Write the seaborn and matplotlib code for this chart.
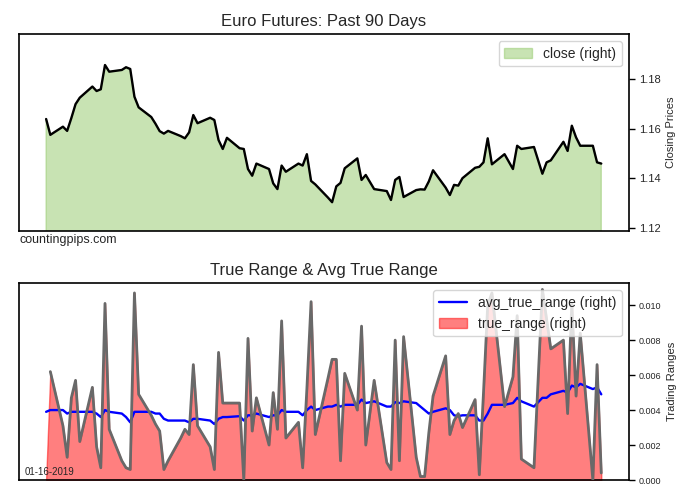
import numpy as np
import pandas as pd
import matplotlib
matplotlib.use("Agg")
import matplotlib.pyplot as plt
import seaborn as sns
from matplotlib.patches import Patch
from matplotlib.lines import Line2D
from matplotlib.ticker import FormatStrFormatter

# ---------------- data ----------------
dates = [
    "2018-09-06", "2018-09-07", "2018-09-10", "2018-09-11", "2018-09-12", "2018-09-13", "2018-09-14",
    "2018-09-17", "2018-09-18", "2018-09-19", "2018-09-20", "2018-09-21", "2018-09-24", "2018-09-25",
    "2018-09-26", "2018-09-27", "2018-09-28",
    "2018-10-01", "2018-10-02", "2018-10-03", "2018-10-04", "2018-10-05", "2018-10-08", "2018-10-09",
    "2018-10-10", "2018-10-11", "2018-10-12", "2018-10-15", "2018-10-16", "2018-10-17", "2018-10-18",
    "2018-10-19", "2018-10-22", "2018-10-23", "2018-10-24", "2018-10-25", "2018-10-26", "2018-10-29",
    "2018-10-30", "2018-10-31",
    "2018-11-01", "2018-11-02", "2018-11-05", "2018-11-06", "2018-11-07", "2018-11-08", "2018-11-09",
    "2018-11-12", "2018-11-13", "2018-11-14", "2018-11-15", "2018-11-16", "2018-11-19", "2018-11-20",
    "2018-11-21", "2018-11-23", "2018-11-26", "2018-11-27", "2018-11-28", "2018-11-29", "2018-11-30",
    "2018-12-03", "2018-12-04", "2018-12-05", "2018-12-06", "2018-12-07", "2018-12-10", "2018-12-11",
    "2018-12-12", "2018-12-13", "2018-12-14", "2018-12-17", "2018-12-18", "2018-12-19", "2018-12-20",
    "2018-12-21", "2018-12-24", "2018-12-26", "2018-12-27", "2018-12-28", "2018-12-31",
    "2019-01-02", "2019-01-03", "2019-01-04", "2019-01-07", "2019-01-08", "2019-01-09", "2019-01-10",
    "2019-01-11", "2019-01-14", "2019-01-15", "2019-01-16",
]

close = [
    1.1639, 1.1575, 1.1608, 1.1591, 1.1643, 1.1699, 1.1725, 1.1770, 1.1752, 1.1759, 1.1857, 1.1830,
    1.1837, 1.1848, 1.1841, 1.1729, 1.1686,
    1.1647, 1.1620, 1.1590, 1.1580, 1.1591, 1.1570, 1.1561, 1.1585, 1.1655, 1.1622, 1.1644, 1.1635,
    1.1554, 1.1518, 1.1563, 1.1521, 1.1518, 1.1437, 1.1410, 1.1459, 1.1437, 1.1379, 1.1356,
    1.1451, 1.1426, 1.1459, 1.1451, 1.1497, 1.1389, 1.1375, 1.1322, 1.1303, 1.1367, 1.1381, 1.1440,
    1.1480, 1.1393, 1.1413, 1.1356, 1.1348, 1.1312, 1.1393, 1.1405, 1.1324,
    1.1352, 1.1355, 1.1354, 1.1387, 1.1432, 1.1362, 1.1332, 1.1373, 1.1370, 1.1400, 1.1442, 1.1446,
    1.1464, 1.1561, 1.1456, 1.1497, 1.1437, 1.1531, 1.1518, 1.1526,
    1.1418, 1.1464, 1.1472, 1.1547, 1.1510, 1.1612, 1.1565, 1.1531, 1.1531, 1.1464, 1.1459,
]

true_range = [
    np.nan, 0.0062, 0.0031, 0.0013, 0.0047, 0.0057, 0.0022, 0.0053, 0.0019, 0.0007, 0.0101, 0.0029,
    0.0011, 0.0007, 0.0006, 0.0107, 0.0049,
    0.0037, 0.0032, 0.0028, 0.0006, 0.0011, 0.0024, 0.0029, 0.0026, 0.0066, 0.0031, 0.0019, 0.0006,
    0.0073, 0.0044, 0.0044, 0.0044, 0.0000, 0.0081, 0.0028, 0.0047, 0.0020, 0.0050, 0.0029,
    0.0091, 0.0024, 0.0033, 0.0007, 0.0052, 0.0102, 0.0026, 0.0058, 0.0069, 0.0069, 0.0011, 0.0061,
    0.0040, 0.0088, 0.0020, 0.0057, 0.0010, 0.0006, 0.0080, 0.0011, 0.0082,
    0.0013, 0.0002, 0.0002, 0.0027, 0.0048, 0.0071, 0.0026, 0.0034, 0.0038, 0.0030, 0.0046, 0.0003,
    0.0050, 0.0100, 0.0107, 0.0042, 0.0059, 0.0094, 0.0012, 0.0007,
    0.0109, 0.0092, 0.0075, 0.0080, 0.0038, 0.0101, 0.0048, 0.0084, 0.0000, 0.0066, 0.0004,
]

avg_true_range = [
    0.0039, 0.0040, 0.0040, 0.0038, 0.0039, 0.0039, 0.0039, 0.0039, 0.0038, 0.0036, 0.0040, 0.0039,
    0.0038, 0.0036, 0.0033, 0.0039, 0.0039,
    0.0039, 0.0038, 0.0038, 0.0035, 0.0034, 0.0034, 0.0034, 0.0033, 0.0035, 0.0035, 0.0034, 0.0032,
    0.0035, 0.0036, 0.0036, 0.00365, 0.0034, 0.0037, 0.0037, 0.0038, 0.0036, 0.0037, 0.0037,
    0.0040, 0.0039, 0.0039, 0.0037, 0.0040, 0.0042, 0.0040, 0.0042, 0.0042, 0.0043, 0.0042, 0.0043,
    0.0043, 0.0046, 0.0044, 0.0045, 0.0042, 0.0042, 0.00445, 0.0044, 0.0045,
    0.0044, 0.0042, 0.0040, 0.0038, 0.0039, 0.0041, 0.0040, 0.0037, 0.00365, 0.0037, 0.0037, 0.0034,
    0.0034, 0.0038, 0.0043, 0.0043, 0.0044, 0.0047, 0.0045, 0.0042,
    0.0047, 0.0047, 0.0049, 0.0051, 0.0050, 0.0054, 0.0053, 0.0055, 0.0052, 0.0053, 0.0049,
]

price_ticks = [1.12, 1.14, 1.16, 1.18]
range_ticks = [0.000, 0.002, 0.004, 0.006, 0.008, 0.010]

# ---------------- style ----------------
sns.set_style("white")
plt.rcParams["font.family"] = ["Liberation Sans", "DejaVu Sans"]

df = pd.DataFrame({
    "date": pd.to_datetime(dates),
    "close": close,
    "true_range": true_range,
    "avg_true_range": avg_true_range,
})

GREEN = "#93c969"
W, H = 700, 500
fig = plt.figure(figsize=(7, 5), dpi=100)
left, right = 19.2, 628.6
ax1 = fig.add_axes([left / W, 1 - 230.7 / H, (right - left) / W, (230.7 - 34.3) / H])
ax2 = fig.add_axes([left / W, 1 - 480.0 / H, (right - left) / W, (480.0 - 283.3) / H])

xmin = df["date"].iloc[0] - pd.Timedelta(days=6.4)
xmax = df["date"].iloc[-1] + pd.Timedelta(days=6.5)

# ---- top panel ----
ax1.fill_between(df["date"], 0, df["close"], facecolor=GREEN, edgecolor=GREEN,
                 alpha=0.5, lw=1, zorder=1)
sns.lineplot(data=df, x="date", y="close", ax=ax1, color="black", lw=1.7,
             estimator=None, zorder=3)
ax1.set_xlim(xmin, xmax)
ax1.set_ylim(1.1188, 1.1981)
ax1.set_yticks(price_ticks)
ax1.set_title("Euro Futures: Past 90 Days", fontsize=12)
ax1.legend(handles=[Patch(facecolor=GREEN, edgecolor=GREEN, alpha=0.5, label="close (right)")],
           loc="upper right", fontsize=10, frameon=True, fancybox=True,
           edgecolor="0.8", framealpha=0.8)

# ---- bottom panel ----
ax2.fill_between(df["date"], 0, df["true_range"].fillna(0), facecolor="red", edgecolor="red",
                 alpha=0.5, lw=1, zorder=1)
sns.lineplot(data=df, x="date", y="avg_true_range", ax=ax2, color="blue", lw=1.7,
             estimator=None, zorder=3)
sns.lineplot(data=df, x="date", y="true_range", ax=ax2, color="dimgray", lw=2.0,
             estimator=None, zorder=4)
ax2.set_xlim(xmin, xmax)
ax2.set_ylim(0, 0.01125)
ax2.set_yticks(range_ticks)
ax2.yaxis.set_major_formatter(FormatStrFormatter("%.3f"))
ax2.set_title("True Range & Avg True Range", fontsize=12)
ax2.legend(handles=[Line2D([0], [0], color="blue", lw=1.7, label="avg_true_range (right)"),
                    Patch(facecolor="red", edgecolor="red", alpha=0.5, label="true_range (right)")],
           loc="upper right", fontsize=10, frameon=True, fancybox=True,
           edgecolor="0.8", framealpha=0.8)
ax2.text(0.0087, 0.04, "01-16-2019", transform=ax2.transAxes, fontsize=7,
         ha="left", va="center")

for ax, lab, lsize in [(ax1, "Closing Prices", 8), (ax2, "Trading Ranges", 6.5)]:
    ax.set_xticks([])
    ax.set_xlabel("")
    ax.yaxis.tick_right()
    ax.yaxis.set_label_position("right")
    ax.set_ylabel(lab, fontsize=8)
    ax.tick_params(axis="y", right=True, left=False, direction="out", length=4,
                   width=1, color="black", labelsize=lsize)
    for sp in ax.spines.values():
        sp.set_color("black")
        sp.set_linewidth(1.2)

fig.text(left / W, 1 - 240 / H, "countingpips.com", fontsize=9, ha="left", va="center")

fig.savefig("out.png", dpi=100)
